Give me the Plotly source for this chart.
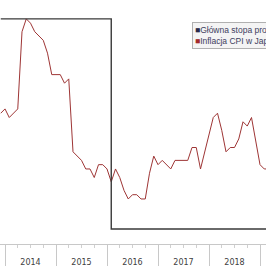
import plotly.graph_objects as go

# Months from Nov 2013 to Feb 2019
months = ["2013-11", "2013-12",
          "2014-01", "2014-02", "2014-03", "2014-04", "2014-05", "2014-06",
          "2014-07", "2014-08", "2014-09", "2014-10", "2014-11", "2014-12",
          "2015-01", "2015-02", "2015-03", "2015-04", "2015-05", "2015-06",
          "2015-07", "2015-08", "2015-09", "2015-10", "2015-11", "2015-12",
          "2016-01", "2016-02", "2016-03", "2016-04", "2016-05", "2016-06",
          "2016-07", "2016-08", "2016-09", "2016-10", "2016-11", "2016-12",
          "2017-01", "2017-02", "2017-03", "2017-04", "2017-05", "2017-06",
          "2017-07", "2017-08", "2017-09", "2017-10", "2017-11", "2017-12",
          "2018-01", "2018-02", "2018-03", "2018-04", "2018-05", "2018-06",
          "2018-07", "2018-08", "2018-09", "2018-10", "2018-11", "2018-12",
          "2019-01", "2019-02"]

cpi = [1.5, 1.6,
       1.4, 1.5, 1.6, 3.4, 3.7, 3.6, 3.4, 3.3, 3.2, 2.9, 2.4, 2.4,
       2.4, 2.2, 2.3, 0.6, 0.5, 0.4, 0.2, 0.2, 0.0, 0.3, 0.3, 0.2,
       -0.1, 0.2, 0.0, -0.3, -0.5, -0.4, -0.4, -0.5, -0.5, 0.1, 0.5, 0.3,
       0.4, 0.3, 0.2, 0.4, 0.4, 0.4, 0.4, 0.7, 0.7, 0.2, 0.6, 1.0,
       1.4, 1.5, 1.1, 0.6, 0.7, 0.7, 0.9, 1.3, 1.2, 1.4, 0.8, 0.3,
       0.2, 0.2]

rate = [0.1, 0.1,
        0.1, 0.1, 0.1, 0.1, 0.1, 0.1, 0.1, 0.1, 0.1, 0.1, 0.1, 0.1,
        0.1, 0.1, 0.1, 0.1, 0.1, 0.1, 0.1, 0.1, 0.1, 0.1, 0.1, 0.1,
        -0.1, -0.1, -0.1, -0.1, -0.1, -0.1, -0.1, -0.1, -0.1, -0.1, -0.1, -0.1,
        -0.1, -0.1, -0.1, -0.1, -0.1, -0.1, -0.1, -0.1, -0.1, -0.1, -0.1, -0.1,
        -0.1, -0.1, -0.1, -0.1, -0.1, -0.1, -0.1, -0.1, -0.1, -0.1, -0.1, -0.1,
        -0.1, -0.1]

years = ["2014", "2015", "2016", "2017", "2018"]
series_names = ["Główna stopa procentowa", "Inflacja CPI w Japonii"]
series_colors = ["#2a2a48", "#a32a2a"]

# positions on a uniform monthly axis (index of each month)
xpos = list(range(len(months)))
year_start = [months.index(y + "-01") - 1 for y in years] + [months.index("2019-01") - 1]
year_mid = [s + 6 for s in year_start[:-1]]
quarter_ticks = [s + q for s in year_start[:-1] for q in (3, 6, 9)]

fig = go.Figure()
fig.add_trace(go.Scatter(x=xpos, y=rate, name=series_names[0], mode="lines",
                         line=dict(color="#3a3a3a", width=1.4, shape="hv"),
                         yaxis="y2", showlegend=False))
fig.add_trace(go.Scatter(x=xpos, y=cpi, name=series_names[1], mode="lines",
                         line=dict(color="#9e3535", width=1), showlegend=False))
# dummy trace for quarter ticks axis
fig.add_trace(go.Scatter(x=[xpos[0]], y=[None], xaxis="x2", showlegend=False,
                         hoverinfo="skip"))

legend_text = "<br>".join(
    f"<span style='color:{c}'>■</span>{n}" for n, c in zip(series_names, series_colors))

fig.update_layout(
    width=266, height=266,
    margin=dict(l=0, r=0, t=0, b=22, autoexpand=False),
    paper_bgcolor="white", plot_bgcolor="white",
    font=dict(family="Liberation Sans", size=8, color="#404040"),
    xaxis=dict(range=[-0.176, 62.41], showline=True, linecolor="#c8c8c8", linewidth=1,
               tickvals=year_mid, ticktext=years, ticks="outside", ticklen=10,
               tickcolor="rgba(0,0,0,0)", showgrid=False, zeroline=False,
               tickfont=dict(family="DejaVu Sans", size=8, color="#404040"),
               minor=dict(tickvals=year_start, ticks="outside", ticklen=22,
                          tickcolor="#c8c8c8", tickwidth=1, showgrid=False)),
    xaxis2=dict(range=[-0.176, 62.41], overlaying="x", anchor="y",
                tickvals=quarter_ticks, ticks="outside", ticklen=3,
                tickcolor="#d0d0d0", showticklabels=False, showgrid=False,
                zeroline=False, showline=False),
    yaxis=dict(range=[-1.55, 4.14], visible=False),
    yaxis2=dict(range=[-0.1143, 0.118], overlaying="y", side="right", visible=False),
    annotations=[dict(x=192 / 266, y=1 - 22 / 244, xref="paper", yref="paper",
                      xanchor="left", yanchor="top", align="left", showarrow=False,
                      text=legend_text, bgcolor="#f4f4f4", bordercolor="#b0b0b0",
                      borderwidth=1, borderpad=2,
                      font=dict(family="Liberation Sans", size=8.5, color="#404060"))],
)

fig.write_html("out.html")
